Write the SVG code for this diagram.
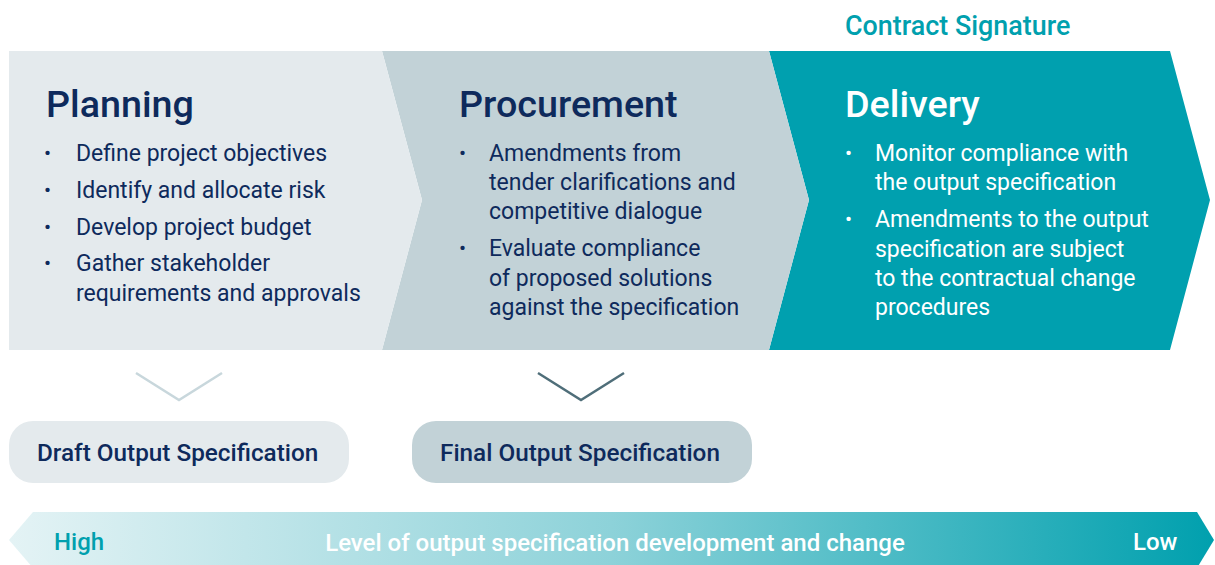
<svg xmlns="http://www.w3.org/2000/svg" width="1215" height="565" viewBox="0 0 1215 565">
  <defs>
    <linearGradient id="bandGrad" x1="0" y1="0" x2="1" y2="0">
      <stop offset="0" stop-color="#E4F3F5"/>
      <stop offset="0.5" stop-color="#8DD2D9"/>
      <stop offset="1" stop-color="#00A0AE"/>
    </linearGradient>
    <style>
      text { font-family: Roboto, "Liberation Sans", sans-serif; }
      .title { font-size: 37.7px; font-weight: 500; }
      .item { font-size: 23px; font-weight: 400; }
      .bullet { font-size: 21px; }
      .dark { fill: #0E2A5C; }
      .light { fill: #FFFFFF; }
      .pill-label { font-size: 24.3px; font-weight: 500; fill: #0E2A5C; }
      .band-label { font-size: 24px; font-weight: 500; }
      .chev { fill: none; stroke-width: 2.5; }
    </style>
  </defs>

  <!-- Phase panels (drawn back to front) -->
  <g id="delivery">
    <polygon points="769,51 1170,51 1210,200 1170,350 769,350 809,200" fill="#00A0AF"/>
    <text x="845" y="35" font-size="26.9" font-weight="500" fill="#00A0AE" font-family="Roboto, 'Liberation Sans', sans-serif">Contract Signature</text>
    <text class="title light" x="845" y="117">Delivery</text>
    <g class="item light">
      <text class="bullet" x="845" y="160">•</text>
      <text x="875" y="161">Monitor compliance with</text>
      <text x="875" y="190">the output specification</text>
      <text class="bullet" x="845" y="226">•</text>
      <text x="875" y="227">Amendments to the output</text>
      <text x="875" y="257">specification are subject</text>
      <text x="875" y="286">to the contractual change</text>
      <text x="875" y="315">procedures</text>
    </g>
  </g>

  <g id="procurement">
    <polygon points="382,51 769,51 809,200 769,350 382,350 422,200" fill="#C2D2D7"/>
    <text class="title dark" x="459" y="117">Procurement</text>
    <g class="item dark">
      <text class="bullet" x="459" y="160">•</text>
      <text x="489" y="161">Amendments from</text>
      <text x="489" y="190">tender clarifications and</text>
      <text x="489" y="219">competitive dialogue</text>
      <text class="bullet" x="459" y="255">•</text>
      <text x="489" y="256">Evaluate compliance</text>
      <text x="489" y="286">of proposed solutions</text>
      <text x="489" y="315">against the specification</text>
    </g>
  </g>

  <g id="planning">
    <polygon points="9,51 382,51 422,200 382,350 9,350" fill="#E4EAED"/>
    <text class="title dark" x="46" y="117">Planning</text>
    <g class="item dark">
      <text class="bullet" x="44" y="160">•</text>
      <text x="76" y="161">Define project objectives</text>
      <text class="bullet" x="44" y="197">•</text>
      <text x="76" y="198">Identify and allocate risk</text>
      <text class="bullet" x="44" y="234">•</text>
      <text x="76" y="235">Develop project budget</text>
      <text class="bullet" x="44" y="270">•</text>
      <text x="76" y="271">Gather stakeholder</text>
      <text x="76" y="301">requirements and approvals</text>
    </g>
  </g>

  <!-- Down chevrons linking phases to their specifications -->
  <g id="connectors">
    <polyline class="chev" points="136,373 179,400 222,373" stroke="#C8D7DC"/>
    <polyline class="chev" points="538,373 581,400 624,373" stroke="#4F6E79"/>
  </g>

  <g id="draft-spec">
    <rect x="9" y="421" width="340" height="62" rx="24" fill="#E4EAED"/>
    <text class="pill-label" x="37" y="461">Draft Output Specification</text>
  </g>

  <g id="final-spec">
    <rect x="412" y="421" width="340" height="62" rx="24" fill="#C2D2D7"/>
    <text class="pill-label" x="440" y="461">Final Output Specification</text>
  </g>

  <!-- Level of change scale -->
  <g id="change-scale">
    <polygon points="33,512 1197,512 1214,540 1197,568 33,568 9,540" fill="url(#bandGrad)"/>
    <text class="band-label" x="54" y="550" fill="#00A0AE">High</text>
    <text class="band-label" x="615" y="551" fill="#FFFFFF" text-anchor="middle">Level of output specification development and change</text>
    <text class="band-label" x="1133" y="550" fill="#FFFFFF">Low</text>
  </g>
</svg>
